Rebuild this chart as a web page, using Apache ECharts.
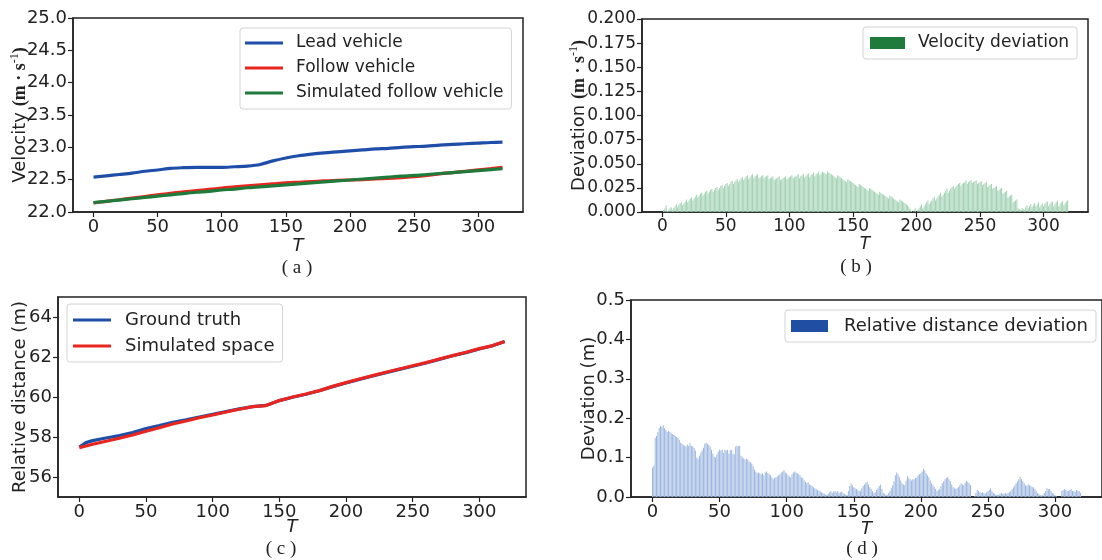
<!DOCTYPE html>
<html>
<head>
<meta charset="utf-8">
<style>
  html, body { margin: 0; padding: 0; background: #fff; }
  #chart { width: 1102px; height: 560px; }
</style>
<script src="https://cdn.jsdelivr.net/npm/echarts@6.0.0/dist/echarts.min.js"></script>
</head>
<body>
<div id="chart"></div>
<script>
// tick positions shared by the four T axes
const tTicks = [0, 50, 100, 150, 200, 250, 300];

// (a) velocities, sampled every 10 steps
const tVel = [0, 10, 20, 30, 40, 50, 60, 70, 80, 90, 100, 110, 120, 130, 140, 150, 160,
  170, 180, 190, 200, 210, 220, 230, 240, 250, 260, 270, 280, 290, 300, 310, 319];
const leadVel = [22.54, 22.56, 22.58, 22.60, 22.63, 22.65, 22.675, 22.685, 22.69, 22.69, 22.69,
  22.70, 22.71, 22.735, 22.79, 22.835, 22.87, 22.895, 22.915, 22.93, 22.945, 22.96, 22.975,
  22.985, 23.00, 23.01, 23.02, 23.035, 23.045, 23.055, 23.065, 23.075, 23.08];
const followVel = [22.14, 22.165, 22.19, 22.215, 22.24, 22.265, 22.29, 22.31, 22.33, 22.35, 22.37,
  22.39, 22.405, 22.42, 22.435, 22.45, 22.46, 22.47, 22.48, 22.49, 22.495, 22.50, 22.51,
  22.52, 22.53, 22.545, 22.565, 22.59, 22.61, 22.63, 22.65, 22.67, 22.69];
const simVel = [22.145, 22.165, 22.185, 22.205, 22.225, 22.245, 22.265, 22.285, 22.305, 22.32, 22.34,
  22.355, 22.375, 22.39, 22.405, 22.42, 22.435, 22.45, 22.465, 22.48, 22.495, 22.51, 22.525,
  22.54, 22.555, 22.565, 22.58, 22.595, 22.61, 22.625, 22.64, 22.655, 22.67];

// (b) velocity deviation, one value per step T = 0..319
const velDev = [
  0, .002, .004, .007, .001, .002, .004, .005, .002, .004, .006, .008, .005, .007, .009, .010, .007, .009, .011, .013,
  .010, .012, .014, .015, .012, .014, .016, .018, .015, .017, .019, .020, .017, .019, .021, .022, .019, .021, .023, .024,
  .021, .023, .025, .026, .023, .025, .027, .028, .025, .027, .029, .030, .027, .029, .031, .032, .029, .031, .033, .034,
  .031, .033, .035, .036, .033, .035, .037, .038, .034, .036, .038, .039, .035, .037, .038, .039, .035, .036, .037, .038,
  .035, .036, .037, .038, .034, .035, .036, .037, .033, .034, .035, .036, .037, .033, .034, .035, .036, .037, .034, .035,
  .036, .037, .038, .035, .036, .037, .038, .039, .035, .037, .038, .039, .036, .037, .039, .040, .036, .038, .039, .041,
  .037, .039, .040, .042, .038, .040, .042, .041, .040, .039, .042, .041, .040, .039, .038, .037, .036, .035, .038, .037,
  .036, .035, .034, .033, .032, .031, .034, .033, .032, .031, .030, .029, .028, .027, .026, .029, .028, .027, .026, .025,
  .024, .023, .022, .025, .024, .023, .022, .021, .020, .019, .018, .021, .020, .019, .018, .017, .016, .015, .014, .017,
  .016, .015, .014, .013, .012, .011, .010, .013, .012, .011, .010, .009, .008, .007, .005, .003, .001, 0, .002, .004,
  0, .002, .004, .006, .008, .004, .006, .008, .010, .012, .008, .010, .012, .014, .016, .012, .014, .016, .018, .020,
  .016, .018, .020, .022, .024, .020, .022, .024, .026, .027, .024, .026, .028, .029, .030, .027, .029, .030, .031, .033,
  .029, .031, .032, .033, .030, .031, .032, .033, .029, .030, .031, .032, .028, .029, .030, .031, .026, .027, .028, .029,
  .024, .025, .026, .027, .022, .023, .024, .025, .019, .020, .021, .022, .015, .016, .017, .018, .010, .011, .012, .013,
  .004, .003, .002, .004, .003, .002, .005, .007, .004, .006, .008, .005, .007, .009, .006, .008, .010, .005, .007, .009,
  .006, .008, .010, .011, .006, .008, .010, .011, .006, .008, .010, .012, .006, .008, .010, .011, .007, .009, .011, .012
];

// (c) relative distance
const tDist = [0, 5, 10, 20, 30, 40, 50, 60, 70, 80, 90, 100, 110, 120, 130, 140, 150, 160,
  170, 180, 190, 200, 210, 220, 230, 240, 250, 260, 270, 280, 290, 300, 310, 319];
const groundTruth = [57.50, 57.72, 57.82, 57.95, 58.07, 58.22, 58.42, 58.57, 58.74, 58.86, 59.00,
  59.13, 59.27, 59.41, 59.52, 59.58, 59.82, 59.99, 60.14, 60.31, 60.52, 60.70, 60.88, 61.05,
  61.22, 61.38, 61.54, 61.70, 61.88, 62.06, 62.22, 62.40, 62.56, 62.78];
const simSpace = [57.47, 57.55, 57.64, 57.79, 57.94, 58.10, 58.29, 58.46, 58.65, 58.80, 58.96,
  59.10, 59.25, 59.39, 59.52, 59.57, 59.82, 60.00, 60.15, 60.32, 60.53, 60.72, 60.90, 61.07,
  61.24, 61.40, 61.56, 61.72, 61.90, 62.07, 62.24, 62.42, 62.57, 62.78];
const distTicks = [56, 58, 60, 62, 64];

// (d) relative distance deviation, one value per step T = 0..319
const distDev = [
  .075, .080, .150, .155, .165, .175, .180, .178, .182, .175, .170, .165, .168, .165, .162, .160, .158, .155, .152, .150,
  .145, .138, .135, .132, .130, .128, .133, .130, .138, .130, .128, .125, .118, .100, .098, .105, .112, .118, .125, .135,
  .138, .135, .132, .128, .120, .110, .102, .100, .108, .115, .120, .118, .120, .112, .120, .118, .120, .110, .118, .120,
  .110, .108, .128, .130, .129, .130, .105, .100, .098, .095, .097, .095, .090, .088, .085, .078, .070, .065, .060, .062,
  .060, .058, .060, .055, .062, .065, .060, .058, .055, .050, .045, .048, .050, .052, .055, .058, .062, .065, .068, .062,
  .060, .055, .052, .050, .058, .062, .065, .062, .060, .058, .055, .050, .048, .042, .038, .035, .038, .032, .030, .028,
  .025, .022, .020, .018, .016, .015, .012, .010, .008, .006, .005, .008, .012, .015, .010, .014, .015, .012, .015, .010,
  .012, .014, .010, .008, .006, .005, .015, .028, .034, .030, .025, .022, .020, .018, .015, .015, .022, .028, .032, .036,
  .039, .032, .025, .020, .015, .010, .012, .018, .022, .028, .032, .020, .010, .008, .006, .005, .010, .015, .022, .030,
  .040, .055, .062, .058, .050, .042, .035, .032, .030, .042, .053, .048, .045, .042, .045, .045, .048, .050, .055, .058,
  .060, .065, .072, .068, .060, .055, .050, .042, .035, .030, .025, .020, .015, .018, .020, .028, .035, .040, .045, .048,
  .051, .045, .040, .032, .025, .022, .020, .022, .025, .030, .035, .032, .030, .036, .041, .038, .035, .030, 0, 0,
  .002, .010, .018, .015, .012, .010, .012, .010, .008, .012, .015, .018, .022, .015, .010, .008, .006, .005, .005, .008,
  .010, .008, .008, .010, .008, .010, .012, .016, .020, .025, .030, .035, .040, .045, .051, .045, .040, .035, .030, .028,
  .032, .030, .028, .025, .025, .020, .015, .010, .008, .005, .003, .006, .010, .015, .022, .020, .020, .015, .010, .008,
  .005, .002, 0, 0, 0, .015, .018, .020, .018, .015, .015, .018, .020, .016, .015, .013, .018, .016, .015, .010
];

const INK = '#222';
const SANS = 'DejaVu Sans';
const SERIF = 'Liberation Serif';

function pairs(xs, ys) {
  return ys.map((y, i) => [xs[i], y]);
}

function xAxisFor(grid, size, gap) {
  return {
    type: 'value', gridIndex: grid, min: -16, max: 335,
    axisLine: { onZero: false, lineStyle: { color: INK, width: 1.5 } },
    axisTick: { length: 5, lineStyle: { color: INK, width: 1.2 }, customValues: tTicks },
    axisLabel: { color: INK, fontSize: size, fontFamily: SANS, margin: 6, customValues: tTicks },
    splitLine: { show: false },
    name: 'T', nameLocation: 'middle', nameGap: gap, nameMoveOverlap: false,
    nameTextStyle: { color: INK, fontSize: size, fontFamily: SANS, fontStyle: 'italic' }
  };
}

function yAxisFor(grid, size, opts) {
  return Object.assign({
    type: 'value', gridIndex: grid,
    axisLine: { show: true, onZero: false, lineStyle: { color: INK, width: 1.5 } },
    axisTick: { show: true, length: 5, lineStyle: { color: INK, width: 1.2 } },
    splitLine: { show: false },
    nameLocation: 'middle', nameRotate: 90, nameMoveOverlap: false,
    nameTextStyle: { color: INK, fontSize: size, fontFamily: SANS }
  }, opts);
}

function unitRich(size) {
  return {
    n: { fontSize: size, fontFamily: SANS, color: INK, verticalAlign: 'middle', lineHeight: 22 },
    b: { fontSize: size, fontFamily: SERIF, fontWeight: 'bold', color: INK, verticalAlign: 'middle', lineHeight: 22 },
    s: { fontSize: 12, fontFamily: SERIF, color: INK, verticalAlign: 'top', lineHeight: 12 }
  };
}

function boxLegend(left, top, size, extra) {
  return Object.assign({
    left: left, top: top, orient: 'vertical', selectedMode: false,
    icon: 'rect', itemWidth: 38, itemHeight: 3, itemGap: 5,
    backgroundColor: '#fff', borderColor: '#d4d4d4', borderWidth: 1, borderRadius: 3,
    textStyle: { color: INK, fontSize: size, fontFamily: SANS, lineHeight: 20, padding: [0, 0, 0, 8] }
  }, extra);
}

const gridStyle = { show: true, borderColor: INK, borderWidth: 1.5, backgroundColor: 'transparent' };

const chart = echarts.init(document.getElementById('chart'));

chart.setOption({
  animation: false,
  backgroundColor: '#fff',
  grid: [
    Object.assign({ left: 73, top: 18, width: 450, height: 194 }, gridStyle),
    Object.assign({ left: 642, top: 19, width: 446, height: 193 }, gridStyle),
    Object.assign({ left: 58, top: 297, width: 468, height: 200 }, gridStyle),
    Object.assign({ left: 631, top: 300, width: 476, height: 197 }, gridStyle)
  ],
  xAxis: [xAxisFor(0, 18, 25), xAxisFor(1, 17, 24), xAxisFor(2, 18, 21), xAxisFor(3, 18, 23)],
  yAxis: [
    yAxisFor(0, 18, {
      min: 22, max: 25, interval: 0.5,
      axisLabel: { color: INK, fontSize: 18, fontFamily: SANS, margin: 6, formatter: v => v.toFixed(1) },
      name: '{n|Velocity }{b|(m · s}{s|-1}{b|)}', nameGap: 42,
      nameTextStyle: { rich: unitRich(18) }
    }),
    yAxisFor(1, 17, {
      min: 0, max: 0.2, interval: 0.025,
      axisLabel: { color: INK, fontSize: 17, fontFamily: SANS, margin: 6, formatter: v => v.toFixed(3) },
      name: '{n|Deviation }{b|(m · s}{s|-1}{b|)}', nameGap: 52,
      nameTextStyle: { rich: unitRich(18) }
    }),
    yAxisFor(2, 18, {
      min: 55, max: 65,
      axisTick: { show: true, length: 5, lineStyle: { color: INK, width: 1.2 }, customValues: distTicks },
      axisLabel: { color: INK, fontSize: 18, fontFamily: SANS, margin: 6, customValues: distTicks },
      name: 'Relative distance (m)', nameGap: 29
    }),
    yAxisFor(3, 18, {
      min: 0, max: 0.5, interval: 0.1,
      axisLabel: { color: INK, fontSize: 18, fontFamily: SANS, margin: 6, formatter: v => v.toFixed(1) },
      name: 'Deviation (m)', nameGap: 33
    })
  ],
  legend: [
    boxLegend(240, 28, 17, {
      padding: [5, 8, 6, 5],
      data: ['Lead vehicle', 'Follow vehicle', 'Simulated follow vehicle']
    }),
    boxLegend(863, 27, 17, {
      padding: [6, 8, 6, 7], itemWidth: 35, itemHeight: 12,
      data: [{ name: 'Velocity deviation', itemStyle: { color: '#1e7b3c' } }]
    }),
    boxLegend(67, 304, 18, {
      padding: [6, 8, 6, 6], itemGap: 6,
      textStyle: { color: INK, fontSize: 18, fontFamily: SANS, lineHeight: 20, padding: [0, 0, 0, 9] },
      data: ['Ground truth', 'Simulated space']
    }),
    boxLegend(785, 310, 18, {
      padding: [6, 8, 6, 6], itemWidth: 37, itemHeight: 12,
      textStyle: { color: INK, fontSize: 18, fontFamily: SANS, lineHeight: 20, padding: [0, 0, 0, 11] },
      data: [{ name: 'Relative distance deviation', itemStyle: { color: '#1f4ea3' } }]
    })
  ],
  series: [
    { name: 'Lead vehicle', type: 'line', xAxisIndex: 0, yAxisIndex: 0, showSymbol: false, smooth: 0.3,
      color: '#1f4ea8', lineStyle: { width: 3.2 }, data: pairs(tVel, leadVel) },
    { name: 'Follow vehicle', type: 'line', xAxisIndex: 0, yAxisIndex: 0, showSymbol: false, smooth: 0.3,
      color: '#e8261f', lineStyle: { width: 3.2 }, data: pairs(tVel, followVel) },
    { name: 'Simulated follow vehicle', type: 'line', xAxisIndex: 0, yAxisIndex: 0, showSymbol: false, smooth: 0.3,
      color: '#1e7b3c', lineStyle: { width: 3.2 }, data: pairs(tVel, simVel) },
    { name: 'Velocity deviation', type: 'bar', xAxisIndex: 1, yAxisIndex: 1, barWidth: 1,
      itemStyle: { color: '#a3d2b4' }, data: velDev.map((v, t) => [t, v]) },
    { name: 'Ground truth', type: 'line', xAxisIndex: 2, yAxisIndex: 2, showSymbol: false,
      color: '#1f4ea8', lineStyle: { width: 3.2 }, data: pairs(tDist, groundTruth) },
    { name: 'Simulated space', type: 'line', xAxisIndex: 2, yAxisIndex: 2, showSymbol: false,
      color: '#e8261f', lineStyle: { width: 3.2 }, data: pairs(tDist, simSpace) },
    { name: 'Relative distance deviation', type: 'bar', xAxisIndex: 3, yAxisIndex: 3, barWidth: 1,
      itemStyle: { color: '#9db7e0' }, data: distDev.map((v, t) => [t, v]) }
  ],
  graphic: [
    { type: 'text', x: 297, y: 268, style: { text: '( a )', align: 'center', verticalAlign: 'middle', fontFamily: SERIF, fontSize: 19, fill: INK } },
    { type: 'text', x: 856, y: 267, style: { text: '( b )', align: 'center', verticalAlign: 'middle', fontFamily: SERIF, fontSize: 19, fill: INK } },
    { type: 'text', x: 281, y: 549, style: { text: '( c )', align: 'center', verticalAlign: 'middle', fontFamily: SERIF, fontSize: 19, fill: INK } },
    { type: 'text', x: 862, y: 549, style: { text: '( d )', align: 'center', verticalAlign: 'middle', fontFamily: SERIF, fontSize: 19, fill: INK } }
  ]
});
</script>
</body>
</html>
